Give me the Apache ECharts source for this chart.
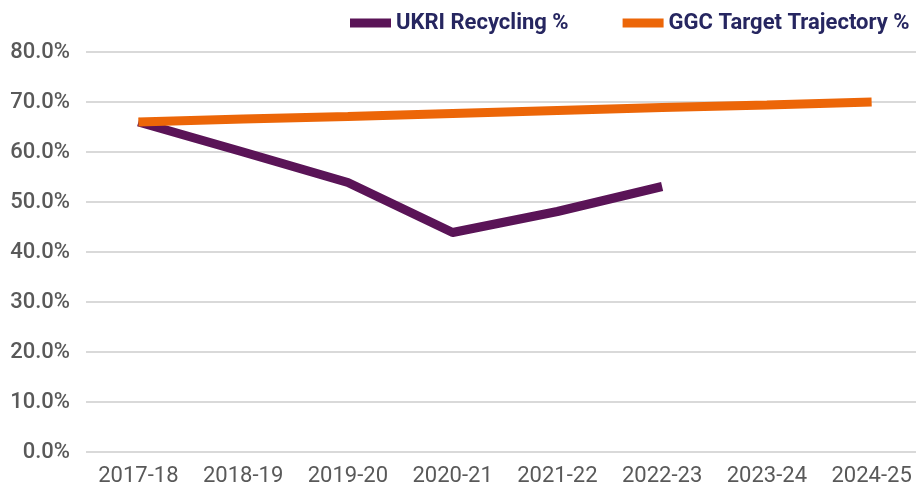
<!DOCTYPE html>
<html>
<head>
<meta charset="utf-8">
<script src="https://cdn.jsdelivr.net/npm/echarts@6/dist/echarts.min.js"></script>
<style>
  html, body { margin: 0; padding: 0; background: #fff; }
  #chart { width: 916px; height: 489px; }
</style>
</head>
<body>
<div id="chart"></div>
<script>
// data
var years = ['2017-18', '2018-19', '2019-20', '2020-21', '2021-22', '2022-23', '2023-24', '2024-25'];
var ukriRecycling = [66.0, 60.0, 53.9, 43.9, 48.1, 53.1, null, null];
var ggcTarget = [66.0, 66.6, 67.1, 67.7, 68.3, 68.9, 69.4, 70.0];
var yTicks = [0, 10, 20, 30, 40, 50, 60, 70, 80];

var chart = echarts.init(document.getElementById('chart'));

var option = {
    animation: false,
    color: ['#5a1457', '#ec6608'],
    legend: {
        left: 345,
        top: 7,
        itemWidth: 41,
        itemHeight: 9,
        itemGap: 54,
        icon: 'rect',
        textStyle: {
            fontFamily: 'Roboto',
            fontWeight: 'bold',
            fontSize: 22,
            color: '#262660'
        },
        data: ['UKRI Recycling %', 'GGC Target Trajectory %']
    },
    grid: {
        left: 86,
        width: 838,
        top: 52,
        bottom: 37,
        outerBoundsMode: 'none'
    },
    xAxis: {
        type: 'category',
        data: years,
        axisLine: { show: false },
        axisTick: { show: false },
        axisLabel: {
            interval: 0,
            fontFamily: 'Roboto',
            fontSize: 22,
            color: '#595959',
            margin: 13
        }
    },
    yAxis: {
        type: 'value',
        min: yTicks[0],
        max: yTicks[yTicks.length - 1],
        interval: 10,
        axisLabel: {
            fontFamily: 'Roboto',
            fontSize: 22,
            fontWeight: 500,
            color: '#595959',
            margin: 16,
            formatter: function (v) { return v.toFixed(1) + '%'; }
        },
        splitLine: { lineStyle: { color: '#d9d9d9', width: 2 } }
    },
    series: [
        {
            name: 'UKRI Recycling %',
            type: 'line',
            data: ukriRecycling,
            showSymbol: false,
            symbol: 'none',
            lineStyle: { width: 9, cap: 'butt', join: 'round' },
            z: 2
        },
        {
            name: 'GGC Target Trajectory %',
            type: 'line',
            data: ggcTarget,
            showSymbol: false,
            symbol: 'none',
            lineStyle: { width: 9, cap: 'butt' },
            z: 3
        }
    ]
};

chart.setOption(option);
</script>
</body>
</html>
